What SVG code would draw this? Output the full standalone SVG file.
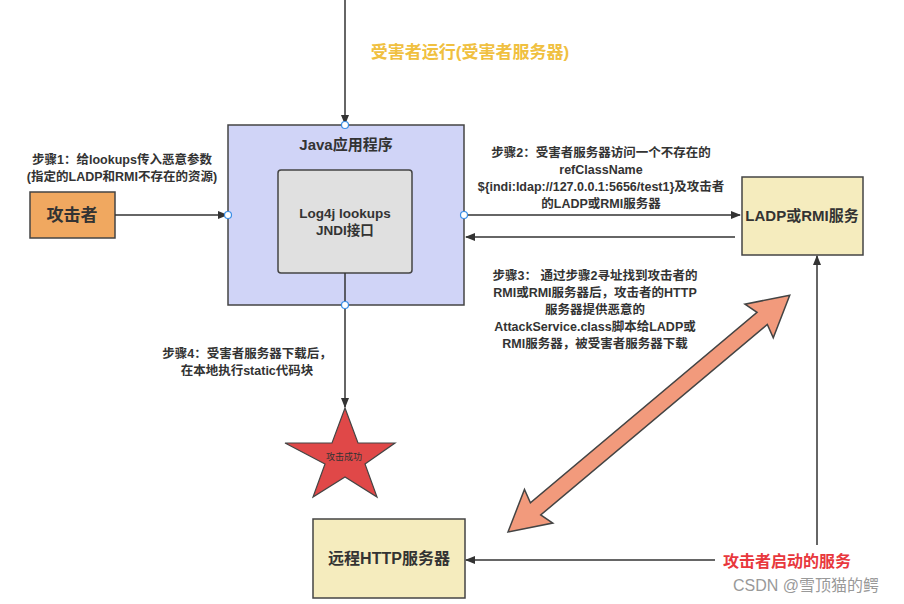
<svg xmlns="http://www.w3.org/2000/svg" width="904" height="604" viewBox="0 0 904 604">
<style>
text{font-family:"Liberation Sans","Noto Sans CJK SC",sans-serif;fill:#333;text-anchor:middle}
.lb{font-size:12.5px;font-weight:bold}
.nb{font-size:16px;font-weight:bold}
.c{stroke:#333;stroke-width:1.5;fill:none}
.pt{fill:#fff;stroke:#3a8ee6;stroke-width:1.2}
</style>
<defs><marker id="a" markerWidth="10" markerHeight="8" refX="9" refY="4" orient="auto" markerUnits="userSpaceOnUse"><path d="M0,0L10,4L0,8z" fill="#333"/></marker></defs>
<rect width="904" height="604" fill="#fff"/>
<text x="470" y="58" style="font-size:17px;font-weight:bold;fill:#f0c040">受害者运行(受害者服务器)</text>
<g id="java"><rect x="228" y="125" width="236" height="180" fill="#d0d4f7" stroke="#444" stroke-width="1.5"/><text class="nb" x="346" y="150" style="font-size:15px">Java应用程序</text></g>
<g id="log4j"><rect x="278" y="170" width="134" height="103" rx="3" fill="#e0e0e0" stroke="#444" stroke-width="1.5"/><text class="lb" x="345" y="218" style="font-size:13.5px">Log4j lookups</text><text class="lb" x="345" y="235" style="font-size:13.5px">JNDI接口</text></g>
<g id="attacker"><rect x="30" y="192" width="85" height="46" fill="#f0a860" stroke="#444" stroke-width="1.5"/><text class="nb" x="72" y="221" style="font-size:17px">攻击者</text></g>
<g id="ladp"><rect x="742" y="177" width="121" height="78" fill="#f5ecbe" stroke="#444" stroke-width="1.5"/><text class="nb" x="802" y="221" style="font-size:15px">LADP或RMI服务</text></g>
<g id="http"><rect x="313" y="519" width="152" height="79" fill="#f5ecbe" stroke="#444" stroke-width="1.5"/><text class="nb" x="389" y="564">远程HTTP服务器</text></g>
<g id="star"><polygon points="345,408 358,443 395,443 365,464 377,497 345,477 313,497 325,464 285,443 332,443" fill="#e04848" stroke="#444" stroke-width="1.2"/><text x="344" y="460" style="font-size:9px">攻击成功</text></g>
<g id="connectors">
<line class="c" x1="345" y1="0" x2="345" y2="124" marker-end="url(#a)"/>
<line class="c" x1="115" y1="215" x2="227" y2="215" marker-end="url(#a)"/>
<line class="c" x1="465" y1="215" x2="740" y2="215" marker-end="url(#a)"/>
<line class="c" x1="735" y1="237" x2="466" y2="237" marker-end="url(#a)"/>
<line class="c" x1="345" y1="273" x2="345" y2="407" marker-end="url(#a)"/>
<line class="c" x1="817" y1="545" x2="817" y2="256" marker-end="url(#a)"/>
<line class="c" x1="715" y1="560" x2="466" y2="560" marker-end="url(#a)"/>
<g transform="translate(508,532) rotate(-40.04)"><polygon points="0,0 40,-22 36,-8 332,-8 328,-22 368,0 328,22 332,8 36,8 40,22" fill="#f29a7c" stroke="#444" stroke-width="1.5"/></g>
<circle class="pt" cx="345" cy="125" r="3.5"/><circle class="pt" cx="228" cy="215" r="3.5"/><circle class="pt" cx="464" cy="215" r="3.5"/><circle class="pt" cx="345" cy="305" r="3.5"/>
</g>
<text class="lb" x="122" y="164">步骤1：给lookups传入恶意参数</text>
<text class="lb" x="122" y="181">(指定的LADP和RMI不存在的资源)</text>
<text class="lb" x="601" y="157">步骤2：受害者服务器访问一个不存在的</text>
<text class="lb" x="601" y="174">refClassName</text>
<text class="lb" x="601" y="191">${indi:ldap://127.0.0.1:5656/test1}及攻击者</text>
<text class="lb" x="601" y="208">的LADP或RMI服务器</text>
<text class="lb" x="595" y="280">步骤3： 通过步骤2寻址找到攻击者的</text>
<text class="lb" x="595" y="297">RMI或RMI服务器后，攻击者的HTTP</text>
<text class="lb" x="595" y="314">服务器提供恶意的</text>
<text class="lb" x="595" y="331">AttackService.class脚本给LADP或</text>
<text class="lb" x="595" y="348">RMI服务器，被受害者服务器下载</text>
<text class="lb" x="247" y="358">步骤4：受害者服务器下载后，</text>
<text class="lb" x="247" y="375">在本地执行static代码块</text>
<text x="787" y="567" style="font-size:16px;font-weight:bold;fill:#e8383d">攻击者启动的服务</text>
<text x="806" y="591" style="font-size:16px;fill:#999">CSDN @雪顶猫的鳄</text>
</svg>
